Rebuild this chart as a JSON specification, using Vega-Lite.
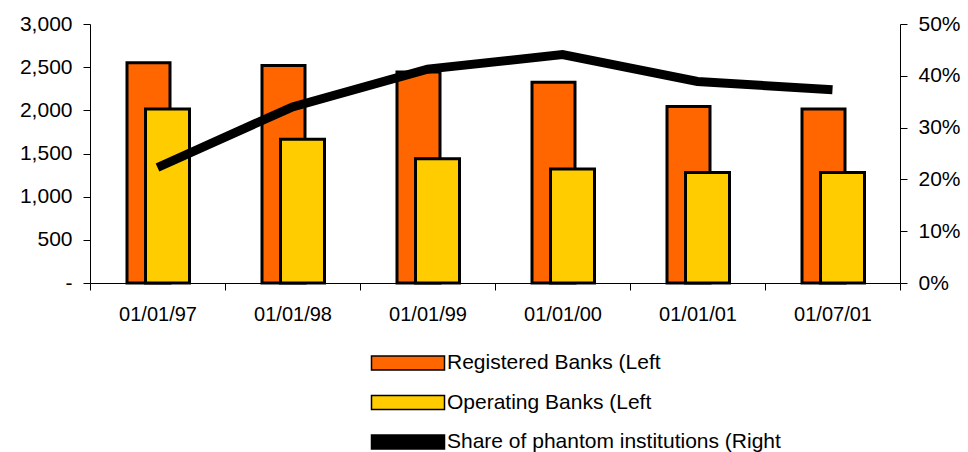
{
  "$schema": "https://vega.github.io/schema/vega-lite/v6.json",
  "width": 810,
  "height": 259,
  "autosize": {"type": "none"},
  "padding": {"left": 90, "top": 24, "right": 68, "bottom": 169},
  "background": "white",
  "config": {
    "view": {"stroke": null},
    "font": "Liberation Sans",
    "axis": {"labelFont": "Liberation Sans", "labelColor": "black", "domainColor": "black", "tickColor": "black", "grid": false, "title": null}
  },
  "datasets": {
    "banks": [
      {"date": "01/01/97", "series": "Registered Banks (Left", "value": 2550},
      {"date": "01/01/98", "series": "Registered Banks (Left", "value": 2520},
      {"date": "01/01/99", "series": "Registered Banks (Left", "value": 2445},
      {"date": "01/01/00", "series": "Registered Banks (Left", "value": 2325},
      {"date": "01/01/01", "series": "Registered Banks (Left", "value": 2045},
      {"date": "01/07/01", "series": "Registered Banks (Left", "value": 2015},
      {"date": "01/01/97", "series": "Operating Banks (Left", "value": 2015},
      {"date": "01/01/98", "series": "Operating Banks (Left", "value": 1665},
      {"date": "01/01/99", "series": "Operating Banks (Left", "value": 1440},
      {"date": "01/01/00", "series": "Operating Banks (Left", "value": 1320},
      {"date": "01/01/01", "series": "Operating Banks (Left", "value": 1280},
      {"date": "01/07/01", "series": "Operating Banks (Left", "value": 1280}
    ],
    "share": [
      {"date": "01/01/97", "share": 0.223},
      {"date": "01/01/98", "share": 0.340},
      {"date": "01/01/99", "share": 0.413},
      {"date": "01/01/00", "share": 0.441},
      {"date": "01/01/01", "share": 0.389},
      {"date": "01/07/01", "share": 0.373}
    ]
  },
  "encoding": {
    "x": {
      "field": "date", "type": "ordinal", "sort": null,
      "scale": {"paddingInner": 0, "paddingOuter": 0},
      "axis": {"labelAngle": 0, "labelFontSize": 20, "tickBand": "extent", "tickSize": 7, "labelPadding": 14, "domainWidth": 1}
    }
  },
  "layer": [
    {
      "data": {"name": "banks"},
      "encoding": {
        "y": {
          "field": "value", "type": "quantitative",
          "scale": {"domain": [0, 3000], "nice": false},
          "axis": {"values": [0, 500, 1000, 1500, 2000, 2500, 3000], "labelExpr": "datum.value == 0 ? '-' : format(datum.value, ',')", "labelFontSize": 21, "tickSize": 7, "labelPadding": 11}
        },
        "color": {
          "field": "series", "type": "nominal",
          "scale": {"domain": ["Registered Banks (Left", "Operating Banks (Left", "Share of phantom institutions (Right"], "range": ["#FF6600", "#FFCC00", "#000000"]},
          "legend": {
            "title": null,
            "orient": "none",
            "legendX": 307,
            "legendY": 328,
            "padding": 0,
            "symbolType": "M-3.65,-0.7H3.65V0.7H-3.65Z",
            "symbolSize": 400,
            "labelFontSize": 21,
            "labelFont": "Liberation Sans",
            "labelColor": "black",
            "labelOffset": 28,
            "labelLimit": 500,
            "rowPadding": 18.5,
            "encode": {
              "symbols": {
                "update": {
                  "fill": {"scale": "color", "field": "value"},
                  "stroke": {"value": "black"},
                  "strokeWidth": {"value": 2},
                  "shape": {"signal": "datum.value === 'Share of phantom institutions (Right' ? 'M-3.45,-0.42H2.85V0.42H-3.45Z' : 'M-3.65,-0.7H3.65V0.7H-3.65Z'"}
                }
              }
            }
          }
        }
      },
      "layer": [
        {
          "transform": [{"filter": "datum.series === 'Registered Banks (Left'"}],
          "mark": {"type": "bar", "width": 43, "xOffset": -9, "stroke": "black", "strokeWidth": 3}
        },
        {
          "transform": [{"filter": "datum.series === 'Operating Banks (Left'"}],
          "mark": {"type": "bar", "width": 44, "xOffset": 10, "stroke": "black", "strokeWidth": 3}
        }
      ]
    },
    {
      "data": {"name": "share"},
      "mark": {"type": "line", "color": "black", "strokeWidth": 9, "strokeCap": "butt"},
      "encoding": {
        "y": {
          "field": "share", "type": "quantitative",
          "scale": {"domain": [0, 0.5], "nice": false},
          "axis": {"orient": "right", "values": [0, 0.1, 0.2, 0.3, 0.4, 0.5], "format": ".0%", "labelFontSize": 21, "tickSize": 7, "labelPadding": 11}
        }
      }
    }
  ],
  "resolve": {"scale": {"y": "independent"}}
}
